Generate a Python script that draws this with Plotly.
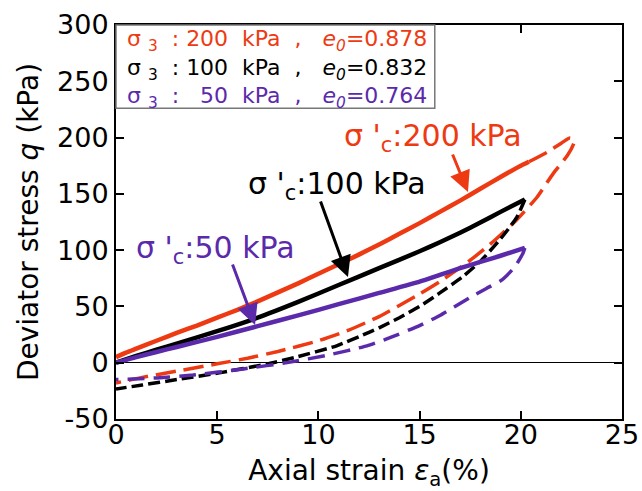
import plotly.graph_objects as go

# ---------------- data ----------------
x_200_load = [0, 0.5, 1, 2, 3, 4, 5, 6, 7, 8, 9, 10, 11, 12, 13, 14, 15, 16, 17, 18, 19, 20, 20.4]
q_200_load = [5, 9, 12.5, 19.5, 26.5, 33, 40, 47, 54.5, 62.5, 70.5, 79, 87.5, 96, 105, 114.5, 124, 134, 144, 154.5, 165, 175, 178.5]
x_200_unload = [20.4, 21.3, 22.0, 22.4, 22.65, 22.6, 22.3, 21.6, 20.8, 19.8, 18.6, 17.5, 16, 15, 13, 11.5, 10, 8, 6.5, 5, 3, 1.3, 0]
q_200_unload = [178.5, 187, 195, 199.5, 198, 194, 184, 168, 147, 127, 107, 91, 72, 61, 41, 29, 19.5, 10, 4, -1, -7.5, -13, -18]

x_100_load = [0, 1, 2, 3, 5, 7, 9, 11, 13, 15, 16, 17, 18, 19, 20.2]
q_100_load = [0, 6, 11.5, 17, 28, 40, 54, 69, 84, 99, 107, 115.5, 124.5, 134, 145]
x_100_unload = [20.2, 19.8, 19.0, 18.0, 17.1, 16, 15, 14, 13, 12.5, 10.9, 8.9, 7.5, 5.1, 3, 1.3, 0]
q_100_unload = [145, 129, 110, 90, 76, 62, 50, 40, 31, 27, 15, 5, -1, -9, -15, -19.8, -23.3]

x_50_load = [0, 1, 2, 3, 5, 7, 9, 11, 13, 15, 16, 17, 18, 19, 20.2]
q_50_load = [0, 5, 9.5, 14, 23, 32.5, 42, 52, 62, 72, 78, 84, 89.5, 95, 102]
x_50_unload = [20.2, 20.1, 19.7, 19.07, 18.3, 17.5, 16, 15, 13.5, 12.4, 10.4, 8.6, 6.3, 3.8, 2, 0]
q_50_unload = [102, 97, 85, 73.5, 66, 58, 42, 33, 22, 15, 6.5, 0.5, -5.5, -11, -13.5, -15]

x_tick_vals = [0, 5, 10, 15, 20, 25]
x_tick_text = ["0", "5", "10", "15", "20", "25"]
y_tick_vals = [-50, 0, 50, 100, 150, 200, 250, 300]
y_tick_text = ["-50", "0", "50", "100", "150", "200", "250", "300"]

NB = "\u00a0"
legend_lines = [
    f"σ{NB}<sub>3</sub>{NB}{NB}:{NB}200{NB}{NB}kPa{NB}{NB},{NB}{NB}{NB}<i>e<sub>0</sub></i>=0.878",
    f"σ{NB}<sub>3</sub>{NB}{NB}:{NB}100{NB}{NB}kPa{NB}{NB},{NB}{NB}{NB}<i>e<sub>0</sub></i>=0.832",
    f"σ{NB}<sub>3</sub>{NB}{NB}:{NB}{NB}{NB}50{NB}{NB}kPa{NB}{NB},{NB}{NB}{NB}<i>e<sub>0</sub></i>=0.764",
]
label_texts = ["σ '<sub>c</sub>:200 kPa", "σ '<sub>c</sub>:100 kPa", "σ '<sub>c</sub>:50 kPa"]

RED = "#EE3A12"
BLACK = "#000000"
PURPLE = "#5B2AAB"
FONT = "DejaVu Sans"

fig = go.Figure()

def add_line(x, y, color, width, dash):
    fig.add_trace(go.Scatter(x=x, y=y, mode="lines",
                             line=dict(color=color, width=width, dash=dash, shape="spline", smoothing=0.5),
                             showlegend=False, hoverinfo="skip"))

add_line(x_200_unload, q_200_unload, RED, 3.5, "20px,8px")
add_line(x_100_unload, q_100_unload, BLACK, 3.5, "12px,5px")
add_line(x_50_unload, q_50_unload, PURPLE, 3.5, "17px,9px")
add_line(x_200_load, q_200_load, RED, 4.5, "solid")
add_line(x_100_load, q_100_load, BLACK, 4.5, "solid")
add_line(x_50_load, q_50_load, PURPLE, 4.5, "solid")

# legend box
fig.add_shape(type="rect", xref="paper", yref="paper", x0=0, x1=0.630, y0=0.789, y1=1.0,
              line=dict(color="#777777", width=1.5), fillcolor="white", layer="above")
legend_colors = [RED, BLACK, PURPLE]
legend_y = [0.960, 0.888, 0.817]
for txt, col, yy in zip(legend_lines, legend_colors, legend_y):
    fig.add_annotation(xref="paper", yref="paper", x=0.018, y=yy, xanchor="left", yanchor="middle",
                       text=txt, showarrow=False, font=dict(family=FONT, size=22, color=col))

# curve labels
label_pos = [(15.66, 200.5), (10.92, 157), (4.94, 101)]
for txt, col, (lx, ly) in zip(label_texts, legend_colors, label_pos):
    fig.add_annotation(x=lx, y=ly, text=txt, showarrow=False, xanchor="center", yanchor="middle",
                       font=dict(family=FONT, size=30, color=col))

# arrows (tail -> tip)
arrows = [((16.6, 186.3), (17.39, 151.6), RED),
          ((10.08, 144.5), (11.46, 76.1), BLACK),
          ((5.73, 88.6), (6.87, 33.5), PURPLE)]
for (tx, ty), (hx, hy), col in arrows:
    fig.add_annotation(x=hx, y=hy, ax=tx, ay=ty, axref="x", ayref="y", xref="x", yref="y",
                       text="", showarrow=True, arrowhead=2, arrowsize=1.4, arrowwidth=3,
                       arrowcolor=col)

fig.update_xaxes(range=[0, 25], tickvals=x_tick_vals, ticktext=x_tick_text, automargin=False,
                 ticks="inside", ticklen=8, tickwidth=1.5, tickcolor="black",
                 showline=True, linecolor="black", linewidth=2, mirror="ticks",
                 showgrid=False, zeroline=False, ticklabelstandoff=-9,
                 tickfont=dict(family=FONT, size=27, color="black"),
                 title=dict(text="Axial strain <i>ε</i><sub>a</sub>(%)",
                            font=dict(family=FONT, size=28, color="black"), standoff=12))
fig.update_yaxes(range=[-50, 300], tickvals=y_tick_vals, ticktext=y_tick_text, automargin=False,
                 ticks="inside", ticklen=8, tickwidth=1.5, tickcolor="black",
                 showline=True, linecolor="black", linewidth=2, mirror="ticks",
                 showgrid=False, zeroline=True, zerolinecolor="black", zerolinewidth=1,
                 tickfont=dict(family=FONT, size=27, color="black"),
                 title=dict(text="Deviator stress <i>q</i> (kPa)",
                            font=dict(family=FONT, size=28, color="black"), standoff=10))

fig.update_layout(width=642, height=491, margin=dict(l=116, r=20, t=25, b=72),
                  paper_bgcolor="white", plot_bgcolor="white",
                  font=dict(family=FONT, color="black"), showlegend=False)

fig.write_html("out.html", config={"displayModeBar": False},
               post_script="document.body.style.margin='0px';")
